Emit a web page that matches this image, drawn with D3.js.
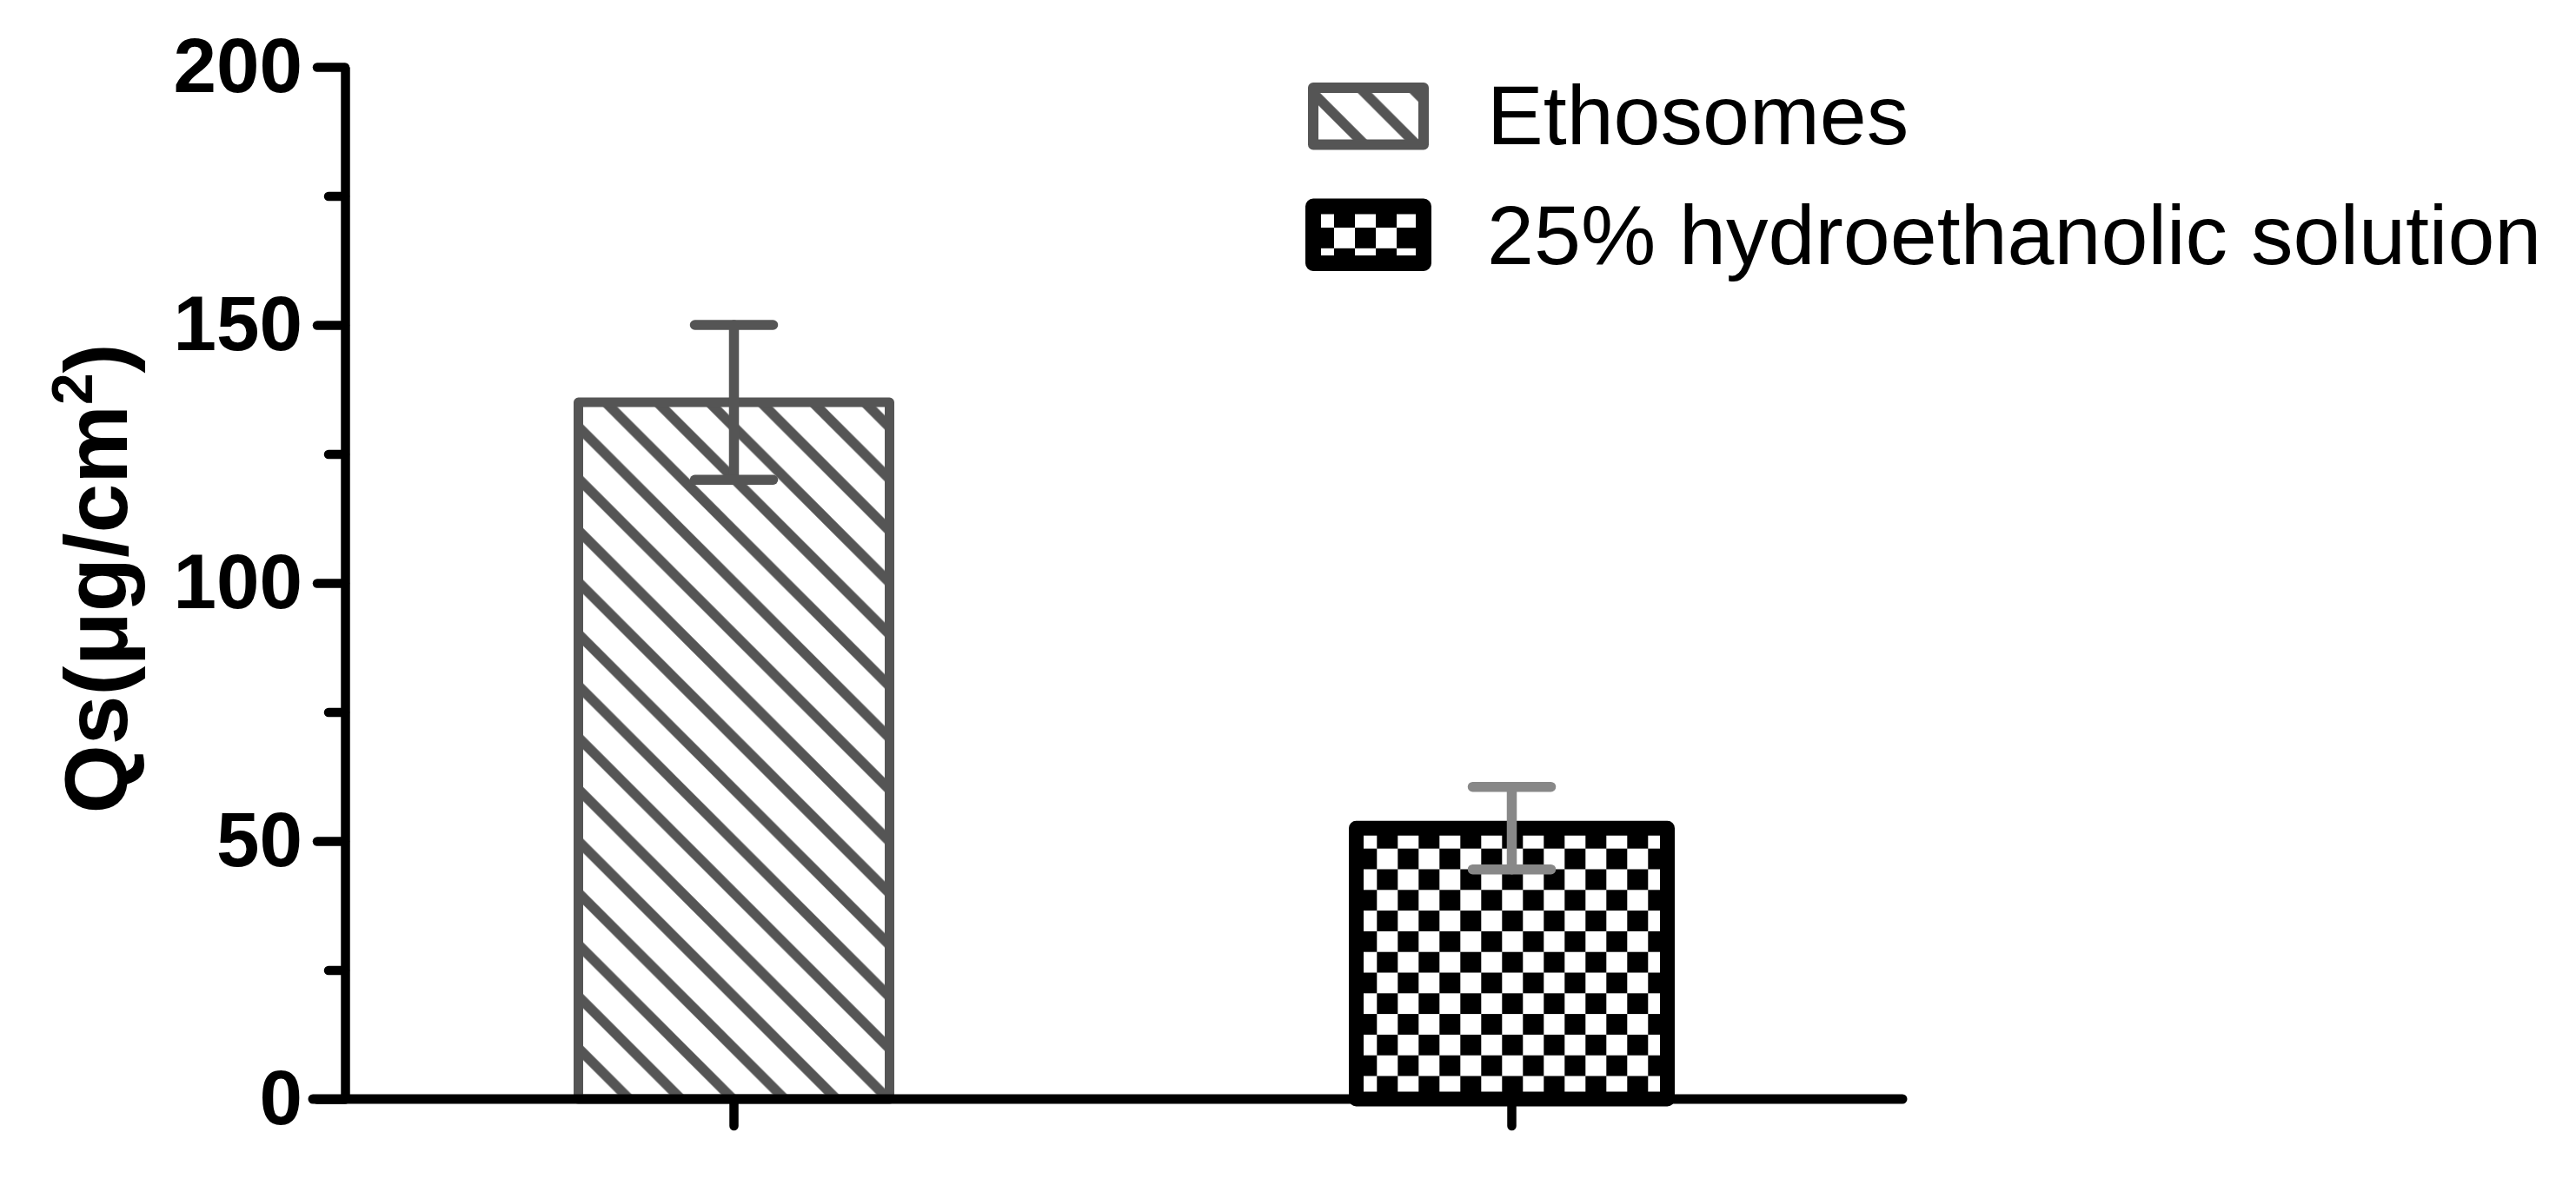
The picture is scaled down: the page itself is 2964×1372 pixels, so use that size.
<!DOCTYPE html>
<html>
<head>
<meta charset="utf-8">
<script src="https://cdn.jsdelivr.net/npm/d3@7"></script>
<style>
  html, body { margin: 0; padding: 0; background: #fff; }
  svg { display: block; }
</style>
</head>
<body>
<script>
// ---- Data ----
const categories = ["Ethosomes", "25% hydroethanolic solution"];
const means = [135, 52.5];
const sds = [15, 8];
const yTicks = [0, 50, 100, 150, 200];
const yMinorTicks = [25, 75, 125, 175];
const yLabel = "Qs(\u03bcg/cm";

// ---- Layout ----
const W = 2964, H = 1372;
const svg = d3.select("body").append("svg").attr("width", W).attr("height", H);
svg.append("rect").attr("width", W).attr("height", H).attr("fill", "#fff");

const y = d3.scaleLinear().domain([0, 200]).range([1265, 77]);
const x = d3.scaleBand().domain(categories).range([397, 2187]).paddingInner(0).paddingOuter(0);
const barW = x.bandwidth() * 0.4;

const seriesStyle = [
  { stroke: "#555555", sw: 11, fill: "url(#hatch)", legFill: "url(#hatchLeg)", legSw: 12, err: "#555555" },
  { stroke: "#000000", sw: 17, fill: "url(#checker)", legFill: "url(#checkerLeg)", legSw: 18, err: "#888888" }
];

// ---- Patterns ----
const defs = svg.append("defs");
function hatch(id, px) {
  const s = 59.6;
  const p = defs.append("pattern").attr("id", id).attr("patternUnits", "userSpaceOnUse")
    .attr("x", px).attr("y", 0).attr("width", s).attr("height", s);
  p.append("path")
    .attr("d", `M${-s/4},${-s/4}L${s*1.25},${s*1.25}M${-s/4},${s*0.75}L${s*0.25},${s*1.25}M${s*0.75},${-s/4}L${s*1.25},${s*0.25}`)
    .attr("stroke", "#555555").attr("stroke-width", 11.5).attr("fill", "none");
}
hatch("hatch", 55);
hatch("hatchLeg", 33);
function checker(id, ox, oy) {
  const cw = 24, ch = 23.8;
  const p = defs.append("pattern").attr("id", id).attr("patternUnits", "userSpaceOnUse")
    .attr("x", ox).attr("y", oy).attr("width", cw * 2).attr("height", ch * 2);
  p.append("rect").attr("width", cw * 2).attr("height", ch * 2).attr("fill", "#fff");
  p.append("rect").attr("x", 0).attr("y", 0).attr("width", cw).attr("height", ch).attr("fill", "#000");
  p.append("rect").attr("x", cw).attr("y", ch).attr("width", cw).attr("height", ch).attr("fill", "#000");
}
checker("checker", 1584.3, 952.9);
checker("checkerLeg", 1535, 238.2);

// ---- Bars ----
svg.append("g").selectAll("rect").data(categories).join("rect")
  .attr("x", d => x(d) + (x.bandwidth() - barW) / 2)
  .attr("y", (d, i) => y(means[i]))
  .attr("width", barW)
  .attr("height", (d, i) => y(0) - y(means[i]))
  .attr("fill", (d, i) => seriesStyle[i].fill)
  .attr("stroke", (d, i) => seriesStyle[i].stroke)
  .attr("stroke-width", (d, i) => seriesStyle[i].sw)
  .attr("stroke-linejoin", "round");

// ---- Error bars ----
const capHalf = 45;
const eg = svg.append("g").attr("stroke-linecap", "round").attr("stroke-width", 11.5);
categories.forEach((c, i) => {
  const cx = x(c) + x.bandwidth() / 2;
  const g = eg.append("g").attr("stroke", seriesStyle[i].err);
  g.append("line").attr("x1", cx).attr("x2", cx).attr("y1", y(means[i] + sds[i])).attr("y2", y(means[i] - sds[i]));
  g.append("line").attr("x1", cx - capHalf).attr("x2", cx + capHalf).attr("y1", y(means[i] + sds[i])).attr("y2", y(means[i] + sds[i]));
  g.append("line").attr("x1", cx - capHalf).attr("x2", cx + capHalf).attr("y1", y(means[i] - sds[i])).attr("y2", y(means[i] - sds[i]));
});

// ---- Axes ----
const yAxis = svg.append("g").attr("transform", "translate(397,0)")
  .call(d3.axisLeft(y).tickValues(yTicks).tickSize(32).tickSizeOuter(0).tickPadding(17).tickFormat(d3.format("d")));
yAxis.select(".domain").attr("stroke", "#000").attr("stroke-width", 10.5).attr("stroke-linejoin", "round");
yAxis.selectAll(".tick line").attr("stroke", "#000").attr("stroke-width", 10.5).attr("stroke-linecap", "round");
yAxis.selectAll(".tick text").attr("fill", "#000")
  .style("font-family", "'Liberation Sans', Arial, sans-serif").style("font-weight", "bold").style("font-size", "89px");

const yMinor = svg.append("g").attr("transform", "translate(397,0)")
  .call(d3.axisLeft(y).tickValues(yMinorTicks).tickSize(19).tickSizeOuter(0).tickFormat(""));
yMinor.select(".domain").remove();
yMinor.selectAll(".tick line").attr("stroke", "#000").attr("stroke-width", 10.5).attr("stroke-linecap", "round");

const xAxis = svg.append("g").attr("transform", `translate(0,${y(0)})`)
  .call(d3.axisBottom(x).tickSize(31).tickSizeOuter(0).tickFormat(""));
xAxis.select(".domain").attr("d", "M360,0H2189").attr("stroke", "#000").attr("stroke-width", 11).attr("stroke-linecap", "round");
xAxis.selectAll(".tick line").attr("stroke", "#000").attr("stroke-width", 10.5).attr("stroke-linecap", "round");

// ---- Y label ----
const yl = svg.append("text")
  .attr("transform", `translate(146,${(y(0) + y(200)) / 2 - 5}) rotate(-90)`)
  .attr("text-anchor", "middle")
  .style("font-family", "'Liberation Sans', Arial, sans-serif").style("font-weight", "bold").style("font-size", "102px")
  .attr("fill", "#000");
yl.append("tspan").text(yLabel);
yl.append("tspan").text("2").style("font-size", "66px").attr("dy", -40);
yl.append("tspan").text(")").attr("dy", 40);

// ---- Legend ----
const lg = svg.append("g");
categories.forEach((c, i) => {
  const st = seriesStyle[i];
  const ry = 101 + i * 136.5;
  lg.append("rect").attr("x", 1511).attr("y", ry).attr("width", 127).attr("height", 65.5)
    .attr("fill", st.legFill).attr("stroke", st.stroke).attr("stroke-width", st.legSw).attr("stroke-linejoin", "round");
  lg.append("text").attr("x", 1711).attr("y", 166 + i * 137.5).text(c)
    .style("font-family", "'Liberation Sans', Arial, sans-serif").style("font-size", "97px").attr("fill", "#000");
});
</script>
</body>
</html>
